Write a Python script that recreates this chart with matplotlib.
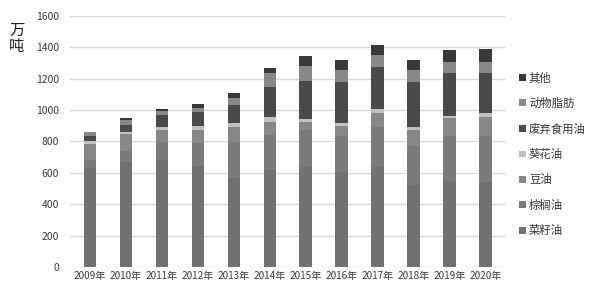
import matplotlib
matplotlib.use('Agg')
import matplotlib.pyplot as plt
import numpy as np

plt.rcParams['font.family'] = ['Noto Sans CJK SC', 'DejaVu Sans']

years = ['2009年', '2010年', '2011年', '2012年', '2013年', '2014年',
         '2015年', '2016年', '2017年', '2018年', '2019年', '2020年']

# 万吨
caizi = [629, 671, 682, 644, 565, 618, 639, 608, 635, 523, 546, 544]     # 菜籽油
zonglv = [53, 68, 117, 149, 234, 223, 234, 230, 259, 248, 289, 291]      # 棕榈油
dou = [103, 106, 74, 80, 91, 85, 53, 62, 90, 102, 113, 119]              # 豆油
kuihua = [15, 13, 21, 26, 26, 28, 17, 20, 21, 21, 14, 25]                # 葵花油
feiqi = [35, 47, 75, 87, 116, 191, 245, 261, 272, 287, 272, 255]         # 废弃食用油
dongwu = [23, 32, 26, 29, 43, 89, 93, 75, 74, 75, 75, 75]                # 动物脂肪
qita = [4, 11, 10, 22, 32, 36, 64, 63, 66, 63, 74, 80]                   # 其他

series = [caizi, zonglv, dou, kuihua, feiqi, dongwu, qita]
names = ['菜籽油', '棕榈油', '豆油', '葵花油', '废弃食用油', '动物脂肪', '其他']
colors = ['#717171', '#7b7b7b', '#878787', '#c0c0c0', '#4a4a4a', '#888888', '#383838']

fig = plt.figure(figsize=(5.93, 2.96), dpi=100)
ax = fig.add_axes([0.118, 0.098, 0.734, 0.848])

x = np.arange(len(years))
bottom = np.zeros(len(years))
handles = []
for vals, name, c in zip(series, names, colors):
    h = ax.bar(x, vals, 0.34, bottom=bottom, color=c, label=name, zorder=3)
    handles.append(h)
    bottom += np.array(vals)

ax.set_ylim(0, 1600)
ax.set_xlim(-0.55, 11.55)
ax.set_yticks(range(0, 1601, 200))
ax.set_xticks(x)
ax.set_xticklabels(years)
ax.yaxis.grid(True, color='#d9d9d9', linewidth=1, zorder=0)
for s in ax.spines.values():
    s.set_visible(False)
ax.tick_params(length=0, labelsize=7.5, colors='#3a3a3a', pad=3)
ax.tick_params(axis='y', pad=8)
for t in ax.get_xticklabels():
    t.set_fontsize(7.2)

fig.text(0.028, 0.87, '万\n吨', fontsize=11, color='#222222', ha='center', va='center',
         linespacing=1.0)

leg = fig.legend(handles[::-1], names[::-1], loc='upper left', bbox_to_anchor=(0.868, 0.772),
                 frameon=False, fontsize=8.2, handlelength=0.55, handleheight=0.55,
                 handletextpad=0.3, labelspacing=1.27, borderaxespad=0)
for t in leg.get_texts():
    t.set_color('#333333')

fig.savefig('out.png', dpi=100)
